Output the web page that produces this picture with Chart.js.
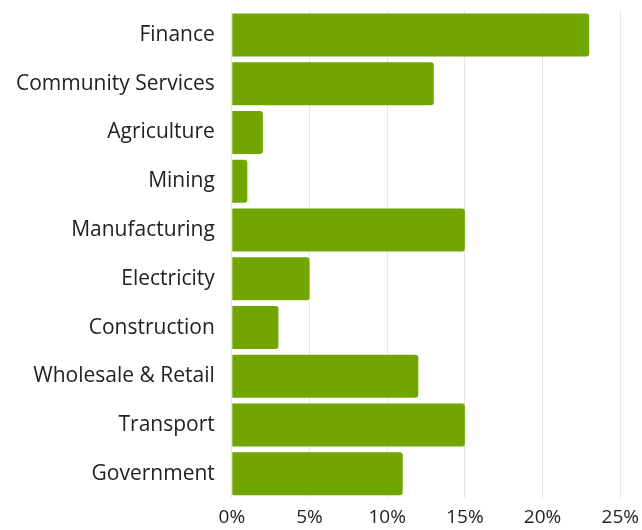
<!DOCTYPE html>
<html>
<head>
<meta charset="utf-8">
<script src="https://cdn.jsdelivr.net/npm/chart.js"></script>
<style>
  html, body { margin: 0; padding: 0; background: #fff; }
  #wrap { width: 642px; height: 530px; overflow: hidden; position: relative; }
  #inner { position: absolute; left: 0; top: -11px; width: 647px; height: 548px; }
</style>
</head>
<body>
<div id="wrap"><div id="inner"><canvas id="myChart"></canvas></div></div>
<script>
const sectors = ['Finance', 'Community Services', 'Agriculture', 'Mining', 'Manufacturing',
  'Electricity', 'Construction', 'Wholesale & Retail', 'Transport', 'Government'];
const shares = [23, 13, 2, 1, 15, 5, 3, 12, 15, 11];

const ctx = document.getElementById('myChart');

new Chart(ctx, {
  type: 'bar',
  data: {
    labels: sectors,
    datasets: [{
      data: shares,
      backgroundColor: '#71a600',
      borderRadius: { topRight: 3, bottomRight: 3, topLeft: 0, bottomLeft: 0 },
      borderSkipped: 'left',
      categoryPercentage: 0.9,
      barPercentage: 0.98
    }]
  },
  options: {
    indexAxis: 'y',
    responsive: true,
    maintainAspectRatio: false,
    animation: false,
    layout: { padding: { top: 0, right: 13, left: 7, bottom: 0 } },
    plugins: { legend: { display: false }, tooltip: { enabled: false } },
    scales: {
      x: {
        min: 0,
        max: 25,
        ticks: {
          stepSize: 5,
          callback: v => v + '%',
          color: '#222',
          font: { family: 'Open Sans', size: 19 },
          padding: 8
        },
        grid: { color: '#e6e6e6', drawTicks: false },
        border: { display: false }
      },
      y: {
        ticks: {
          color: '#222',
          font: { family: 'Open Sans', size: 21 },
          padding: 9
        },
        grid: { display: false },
        border: { display: false }
      }
    }
  }
});
</script>
</body>
</html>
